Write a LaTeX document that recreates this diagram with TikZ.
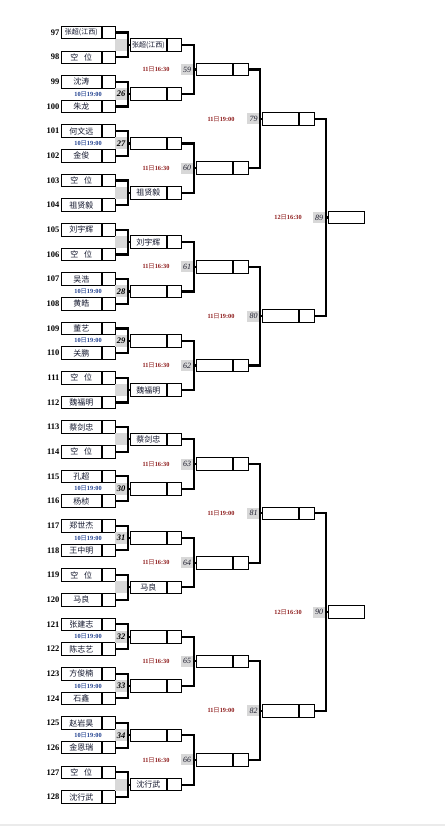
\documentclass[tikz,border=0pt]{standalone}
\usepackage{fontspec}
\setmainfont{Liberation Serif}
\newfontfamily\cjk{Noto Sans CJK SC}
\definecolor{namec}{HTML}{14182E}
\definecolor{dateblue}{HTML}{1F3F8F}
\definecolor{datered}{HTML}{8E1C1C}
\definecolor{grayfill}{HTML}{D8D8D8}
\definecolor{gnum}{HTML}{1E1E2E}
\newcommand\zcjx{{\fontsize{7}{8}\selectfont 张超(江西)}}
\newcommand\kw{空\hspace{0.7em}位}
\newcommand\dA{{\bfseries 10}{\cjk 日}{\bfseries 19:00}}
\newcommand\dB{{\bfseries 11}{\cjk 日}{\bfseries 16:30}}
\newcommand\dC{{\bfseries 11}{\cjk 日}{\bfseries 19:00}}
\newcommand\dD{{\bfseries 12}{\cjk 日}{\bfseries 16:30}}
\tikzset{
  namecell/.style={draw, line width=0.8pt, anchor=west, inner sep=0pt,
    minimum height=12.5pt, minimum width=#1,
    font=\cjk\fontsize{8}{9}\selectfont, text=namec},
  scorecell/.style={draw, line width=0.8pt, anchor=west, inner sep=0pt,
    minimum height=12.5pt, minimum width=#1},
  pnum/.style={anchor=east, inner sep=0pt, font=\bfseries\fontsize{8.5}{9}\selectfont},
  conn/.style={line width=2.2pt, line cap=rect},
  gboxa/.style={fill=grayfill, inner sep=0pt, minimum width=12pt, minimum height=12pt,
    font=\bfseries\itshape\fontsize{8.5}{9}\selectfont},
  gboxb/.style={fill=grayfill, inner sep=0pt, minimum width=12.5pt, minimum height=11pt,
    font=\itshape\fontsize{8}{8}\selectfont, text=gnum},
  datea/.style={inner sep=0pt, font=\fontsize{6.3}{7}\selectfont, text=dateblue},
  dateb/.style={inner sep=0pt, font=\fontsize{6.3}{7}\selectfont, text=datered}
}
\begin{document}
\begin{tikzpicture}[x=1pt,y=-1pt]
\useasboundingbox (0,0) rectangle (445,826);
\fill[white] (0,0) rectangle (445,826);
\fill[black!8] (0,823.5) rectangle (445,826);
% round 1 players
\foreach \n [count=\c from 0] in {\zcjx,\kw,沈涛,朱龙,何文远,金俊,\kw,祖贤毅,刘宇辉,\kw,吴浩,黄皓,董艺,关鹏,\kw,魏福明,蔡剑忠,\kw,孔超,杨桢,郑世杰,王中明,\kw,马良,张建志,陈志艺,方俊楠,石鑫,赵岩昊,金恩瑞,\kw,沈行武}{
  \pgfmathsetmacro\yy{32.5+24.66*\c}
  \pgfmathtruncatemacro\pn{97+\c}
  \node[namecell=39.7pt] (p\c) at (61,\yy) {\n};
  \node[scorecell=13.3pt] (s\c) at (p\c.east) {};
  \node[pnum] (n\c) at (59.5,\yy) {\pn};
}
% round 1 matches -> round 2 boxes
\foreach \m/\num/\win in {0//\zcjx,1/26/,2/27/,3//祖贤毅,4//刘宇辉,5/28/,6/29/,7//魏福明,8//蔡剑忠,9/30/,10/31/,11//马良,12/32/,13/33/,14/34/,15//沈行武}{
  \pgfmathtruncatemacro\a{2*\m}
  \pgfmathtruncatemacro\b{2*\m+1}
  \pgfmathsetmacro\ym{32.5+24.66*(2*\m+0.5)}
  \coordinate (ja\m) at (128,\ym);
  \node[gboxa] (ga\m) at (121,\ym) {\num};
  \node[namecell=36pt] (qa\m) at (130,\ym) {\win};
  \node[scorecell=14pt] (qs\m) at (qa\m.east) {};
  \draw[conn] (s\a.east) -| (ja\m) |- (s\b.east);
  \draw[conn] (ja\m) -- (qa\m.west);
}
\foreach \m in {1,2,5,6,9,10,12,13,14}{
  \pgfmathsetmacro\ym{32.5+24.66*(2*\m+0.5)}
  \node[datea] (da\m) at (88,\ym) {\dA};
}
% round 2 -> round 3
\foreach \k in {0,...,7}{
  \pgfmathtruncatemacro\a{2*\k}
  \pgfmathtruncatemacro\b{2*\k+1}
  \pgfmathtruncatemacro\nn{59+\k}
  \pgfmathsetmacro\ym{32.5+24.66*(4*\k+1.5)}
  \coordinate (jb\k) at (194,\ym);
  \node[gboxb] (gb\k) at (187,\ym) {\nn};
  \node[namecell=36pt] (ra\k) at (196,\ym) {};
  \node[scorecell=15pt] (rs\k) at (ra\k.east) {};
  \draw[conn] (qs\a.east) -| (jb\k) |- (qs\b.east);
  \draw[conn] (jb\k) -- (ra\k.west);
  \node[dateb] (db\k) at (156,\ym) {\dB};
}
% round 3 -> round 4
\foreach \k in {0,...,3}{
  \pgfmathtruncatemacro\a{2*\k}
  \pgfmathtruncatemacro\b{2*\k+1}
  \pgfmathtruncatemacro\nn{79+\k}
  \pgfmathsetmacro\ym{32.5+24.66*(8*\k+3.5)}
  \coordinate (jc\k) at (260,\ym);
  \node[gboxb] (gc\k) at (253.5,\ym) {\nn};
  \node[namecell=36pt] (ta\k) at (262,\ym) {};
  \node[scorecell=15pt] (ts\k) at (ta\k.east) {};
  \draw[conn] (rs\a.east) -| (jc\k) |- (rs\b.east);
  \draw[conn] (jc\k) -- (ta\k.west);
  \node[dateb] (dc\k) at (221,\ym) {\dC};
}
% round 4 -> round 5
\foreach \k in {0,1}{
  \pgfmathtruncatemacro\a{2*\k}
  \pgfmathtruncatemacro\b{2*\k+1}
  \pgfmathtruncatemacro\nn{89+\k}
  \pgfmathsetmacro\ym{32.5+24.66*(16*\k+7.5)}
  \coordinate (jd\k) at (326,\ym);
  \node[gboxb] (gd\k) at (319,\ym) {\nn};
  \node[namecell=36pt] (fa\k) at (328,\ym) {};
  \draw[conn] (ts\a.east) -| (jd\k) |- (ts\b.east);
  \draw[conn] (jd\k) -- (fa\k.west);
  \node[dateb] (dd\k) at (288,\ym) {\dD};
}
\end{tikzpicture}
\end{document}
